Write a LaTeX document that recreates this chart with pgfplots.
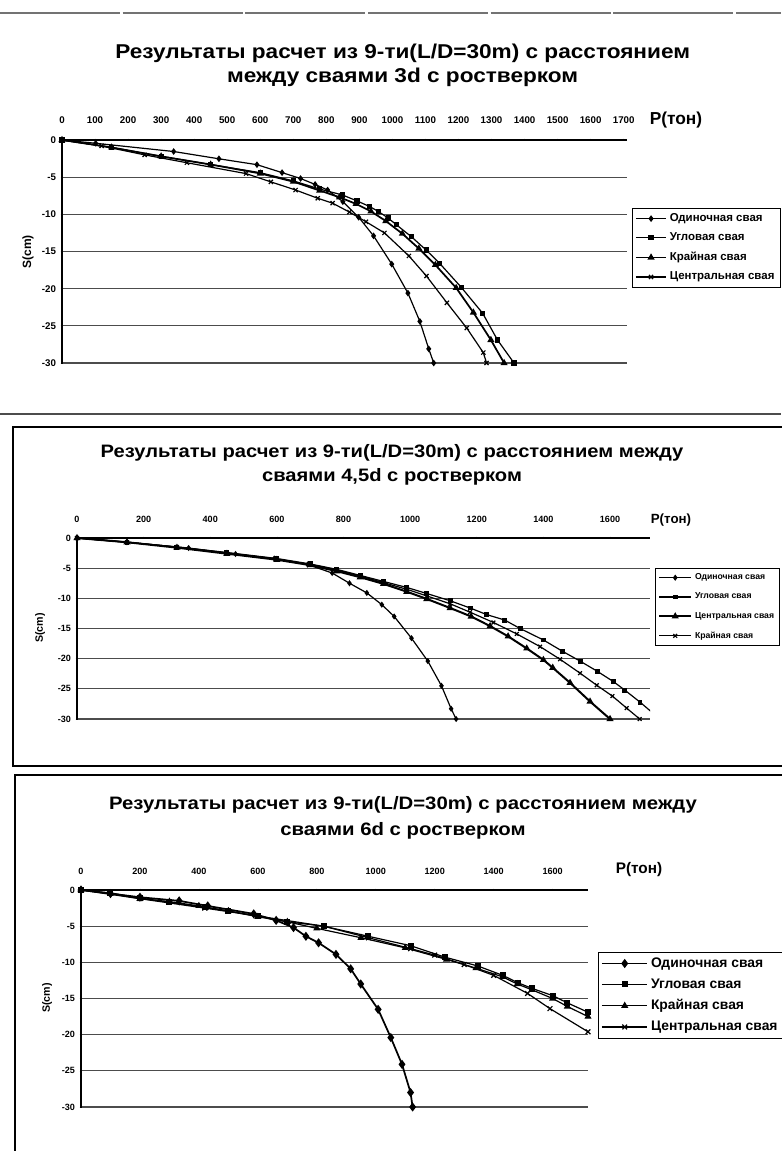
\documentclass[border=0pt]{standalone}
\usepackage{graphicx}
\usepackage{pgfplots}
\pgfplotsset{compat=1.18}
\usepackage{fontspec}
\setmainfont{Liberation Sans}

\pgfplotsset{
  mychart/.style={
    scale only axis,
    axis x line=top, axis y line=left,
    axis line style={-, black, line width=0.8pt},
    xmin=0, ymin=-30, ymax=0,
    ytick={-30,-25,-20,-15,-10,-5,0},
    ymajorgrids, grid style={black!70, line width=0.8pt},
    tick style={black, line width=0.5pt}, major tick length=2pt,
    /pgf/number format/assume math mode=true,
    /pgf/number format/1000 sep={},
    ticklabel style={font=\fontsize{6.8}{7}\selectfont\bfseries},
    every axis plot/.append style={black, line width=0.9pt, mark size=1.8pt},
    legend cell align=left,
  },
  leglen/.style={legend image code/.code={\draw[mark repeat=2,mark phase=2] plot coordinates {(0cm,0cm) (#1/2,0cm) (#1,0cm)};}},
}

\begin{document}
\begin{tikzpicture}
\path[use as bounding box] (0,0) rectangle (585.75pt,-863.25pt);

% frames and separators
\draw[black!55, line width=0.8pt, dash pattern=on 90pt off 2pt] (0,-9.75pt) -- (585.75pt,-9.75pt);
\draw[black!70, line width=0.9pt] (0,-310.5pt) -- (585.75pt,-310.5pt);
\draw[black, line width=0.9pt] (9.75pt,-320.25pt) rectangle (600pt,-574.5pt);
\draw[black, line width=0.9pt] (11.25pt,-581.25pt) rectangle (600pt,-880pt);

% ---------------- chart 1 ----------------
\node[align=center, font=\fontsize{15}{18}\selectfont\bfseries] at (302pt,-48.75pt)
  {\scalebox{1.13}[1]{Результаты расчет из 9-ти(L/D=30m) с расстоянием}\\\scalebox{1.13}[1]{между сваями 3d с ростверком}};
\node[font=\fontsize{13}{13}\selectfont\bfseries] at (507pt,-90pt) {P(тон)};
\node[rotate=90, font=\fontsize{9}{9}\selectfont\bfseries] at (21pt,-189pt) {S(cm)};

\begin{axis}[mychart, at={(46.5pt,-105pt)}, anchor=north west,
  width=423.75pt, height=167.25pt, xmax=1710,
  xtick={0,100,...,1700}, xticklabel shift={8pt},
  ticklabel style={font=\fontsize{7.3}{7.5}\selectfont\bfseries},
  leglen=0.8cm,
  legend style={at={(rel axis cs:1.009,0.695)}, anchor=north west, draw=black,
    font=\fontsize{8.6}{9}\selectfont\bfseries, row sep=3pt, inner sep=2pt}]
\addplot[mark=diamond*] coordinates {(0,0)(102,-0.44)(338,-1.55)(475,-2.53)(590,-3.32)(666,-4.39)(722,-5.18)(766,-5.98)(804,-6.73)(850,-8.3)(898,-10.4)(943,-12.9)(998,-16.7)(1047,-20.6)(1083,-24.4)(1110,-28.1)(1125,-30)};
\addlegendentry{Одиночная свая}
\addplot[mark=square*, mark size=1.5pt] coordinates {(0,0)(150,-1.0)(300,-2.2)(450,-3.3)(600,-4.4)(700,-5.5)(780,-6.6)(849,-7.4)(893,-8.2)(931,-8.95)(957,-9.6)(987,-10.5)(1012,-11.4)(1057,-13.0)(1102,-14.8)(1143,-16.6)(1208,-19.8)(1273,-23.3)(1318,-26.9)(1368,-30)};
\addlegendentry{Угловая свая}
\addplot[mark=triangle*, line width=1.3pt] coordinates {(0,0)(150,-1.0)(300,-2.2)(450,-3.3)(600,-4.5)(700,-5.6)(780,-6.8)(840,-7.7)(890,-8.6)(935,-9.6)(980,-10.9)(1030,-12.6)(1080,-14.6)(1130,-16.8)(1193,-19.9)(1245,-23.2)(1298,-26.9)(1338,-30)};
\addlegendentry{Крайная свая}
\addplot[mark=x, mark size=2.2pt] coordinates {(0,0)(120,-0.8)(250,-2.0)(378,-3.06)(557,-4.52)(632,-5.63)(707,-6.73)(774,-7.84)(819,-8.5)(870,-9.7)(920,-11.0)(976,-12.5)(1050,-15.6)(1103,-18.3)(1165,-21.9)(1225,-25.3)(1275,-28.6)(1285,-30)};
\addlegendentry{Центральная свая}
\end{axis}

% ---------------- chart 2 ----------------
\node[align=center, font=\fontsize{13.5}{18}\selectfont\bfseries] at (294pt,-348.75pt)
  {\scalebox{1.12}[1]{Результаты расчет из 9-ти(L/D=30m) с расстоянием между}\\\scalebox{1.12}[1]{сваями 4,5d с ростверком}};
\node[font=\fontsize{10}{10}\selectfont\bfseries] at (503.25pt,-390pt) {P(тон)};
\node[rotate=90, font=\fontsize{8}{8}\selectfont\bfseries] at (30pt,-471pt) {S(cm)};

\begin{axis}[mychart, at={(57.75pt,-403.5pt)}, anchor=north west,
  width=429.75pt, height=135.75pt, xmax=1720,
  xtick={0,200,...,1600}, xticklabel shift={7pt},
  leglen=0.85cm,
  legend style={at={(rel axis cs:1.009,0.834)}, anchor=north west, draw=black,
    font=\fontsize{6.5}{6.5}\selectfont\bfseries, row sep=4.5pt, inner sep=2pt}]
\addplot[mark=diamond*, mark size=1.6pt] coordinates {(0,0)(150,-0.7)(335,-1.66)(476,-2.65)(592,-3.4)(692,-4.4)(766,-5.8)(818,-7.5)(870,-9.1)(915,-11.05)(952,-13.0)(1004,-16.6)(1053,-20.4)(1094,-24.5)(1123,-28.3)(1138,-30)};
\addlegendentry{Одиночная свая}
\addplot[mark=square*, mark size=1.4pt] coordinates {(0,0)(150,-0.7)(300,-1.5)(450,-2.4)(600,-3.4)(700,-4.3)(780,-5.2)(850,-6.2)(920,-7.2)(990,-8.2)(1050,-9.2)(1120,-10.4)(1180,-11.6)(1230,-12.7)(1284,-13.6)(1330,-15.0)(1400,-16.9)(1458,-18.8)(1510,-20.4)(1562,-22.1)(1610,-23.8)(1644,-25.2)(1690,-27.2)(1726,-28.9)};
\addlegendentry{Угловая свая}
\addplot[mark=triangle*, line width=1.5pt, mark size=1.6pt] coordinates {(0,0)(150,-0.7)(300,-1.6)(450,-2.6)(600,-3.6)(700,-4.5)(780,-5.5)(850,-6.5)(920,-7.6)(990,-8.9)(1050,-10.1)(1120,-11.6)(1183,-13.0)(1240,-14.6)(1294,-16.3)(1350,-18.3)(1400,-20.2)(1428,-21.5)(1480,-24.0)(1540,-27.1)(1600,-30)};
\addlegendentry{Центральная свая}
\addplot[mark=x, mark size=2pt] coordinates {(0,0)(150,-0.7)(300,-1.5)(450,-2.5)(600,-3.5)(700,-4.4)(780,-5.3)(850,-6.3)(920,-7.4)(990,-8.5)(1050,-9.6)(1120,-10.9)(1180,-12.3)(1250,-14.0)(1320,-15.9)(1390,-18.0)(1450,-20.1)(1510,-22.4)(1560,-24.4)(1607,-26.2)(1650,-28.2)(1689,-30)};
\addlegendentry{Крайная свая}
\end{axis}

% ---------------- chart 3 ----------------
\node[align=center, font=\fontsize{13.5}{20}\selectfont\bfseries] at (302.25pt,-613.5pt)
  {\scalebox{1.13}[1]{Результаты расчет из 9-ти(L/D=30m) с расстоянием между}\\\scalebox{1.13}[1]{сваями 6d с ростверком}};
\node[font=\fontsize{11.5}{11.5}\selectfont\bfseries] at (479.25pt,-652.5pt) {P(тон)};
\node[rotate=90, font=\fontsize{8}{8}\selectfont\bfseries] at (35.25pt,-748.5pt) {S(cm)};

\begin{axis}[mychart, at={(60.75pt,-667.5pt)}, anchor=north west,
  width=380.25pt, height=162.75pt, xmax=1720,
  xtick={0,200,...,1600}, xticklabel shift={7pt},
  leglen=1.2cm,
  legend style={at={(rel axis cs:1.02,0.714)}, anchor=north west, draw=black,
    font=\fontsize{10.4}{11}\selectfont\bfseries, row sep=3pt, inner sep=2pt}]
\addplot[mark=diamond*, mark size=2.4pt, line width=1.3pt] coordinates {(0,0)(100,-0.5)(200,-1.0)(333,-1.5)(430,-2.2)(586,-3.3)(662,-4.2)(721,-5.2)(763,-6.4)(806,-7.3)(865,-8.9)(915,-10.9)(949,-13.0)(1008,-16.5)(1051,-20.4)(1089,-24.1)(1118,-28.0)(1125,-30)};
\addlegendentry{Одиночная свая}
\addplot[mark=square*, mark size=1.8pt] coordinates {(0,0)(100,-0.4)(200,-1.1)(300,-1.7)(420,-2.4)(500,-2.9)(600,-3.6)(700,-4.4)(823,-5.0)(975,-6.4)(1118,-7.7)(1236,-9.3)(1346,-10.5)(1431,-11.8)(1481,-12.8)(1530,-13.6)(1600,-14.6)(1650,-15.6)(1720,-16.9)};
\addlegendentry{Угловая свая}
\addplot[mark=triangle*, mark size=2.2pt] coordinates {(0,0)(100,-0.5)(200,-1.2)(300,-1.6)(400,-2.2)(500,-2.9)(600,-3.7)(700,-4.4)(800,-5.3)(950,-6.6)(1100,-8.0)(1240,-9.6)(1340,-10.8)(1430,-12.0)(1480,-13.0)(1530,-13.8)(1600,-15.0)(1650,-16.1)(1720,-17.5)};
\addlegendentry{Крайная свая}
\addplot[mark=x, mark size=2.5pt] coordinates {(0,0)(200,-1.2)(420,-2.5)(600,-3.6)(823,-5.0)(975,-6.6)(1118,-8.1)(1200,-9.0)(1300,-10.3)(1400,-11.8)(1515,-14.3)(1591,-16.4)(1720,-19.6)};
\addlegendentry{Центральная свая}
\end{axis}
\end{tikzpicture}
\end{document}
